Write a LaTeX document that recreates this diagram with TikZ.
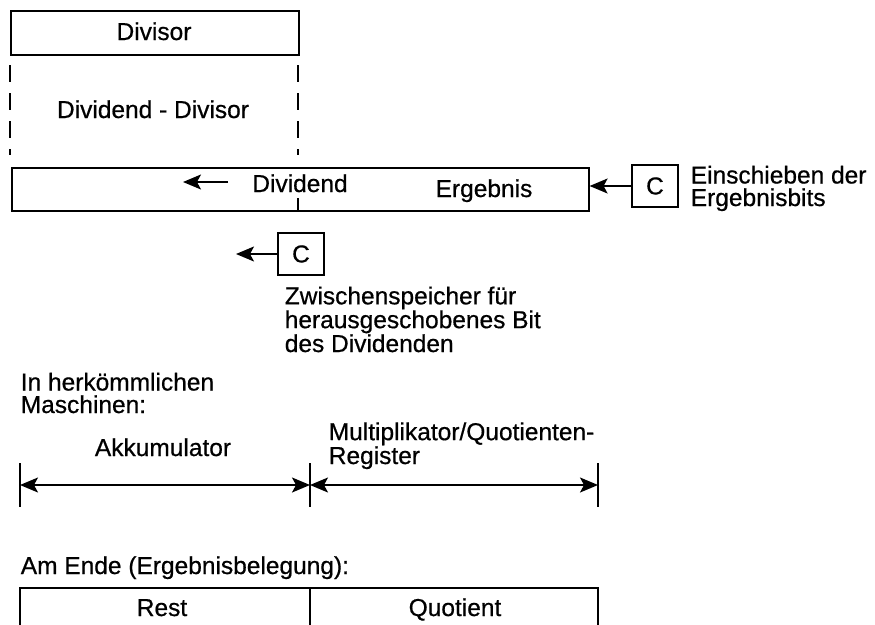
\documentclass[tikz,border=0pt]{standalone}
\usepackage{fontspec}
\setmainfont[FakeBold=0.6]{Liberation Sans}
\usetikzlibrary{arrows.meta}
\begin{document}
\begin{tikzpicture}[x=1pt,y=-1pt,line width=1.6pt,
  txt/.style={inner sep=0pt,font=\fontsize{24.5}{22.5}\selectfont},
  mtxt/.style={txt,align=left,anchor=base west},
  regbox/.style={draw,inner sep=0pt,anchor=north west},
  cbox/.style={draw,minimum width=46pt,minimum height=42pt,inner sep=0pt,font=\fontsize{24.5}{22}\selectfont},
  tip/.style={-{Stealth[length=18pt,width=15pt,inset=4pt]}},
  dtip/.style={{Stealth[length=18pt,width=15pt,inset=4pt]}-{Stealth[length=18pt,width=15pt,inset=4pt]}},
  dashline/.style={dash pattern=on 17pt off 11pt}]
\useasboundingbox (0,0) rectangle (875,624);
% Divisor box
\node[regbox,minimum width=288pt,minimum height=44pt] (divisor) at (10,10) {};
\node[txt,anchor=base] (tdivisor) at (154,40) {Divisor};
% dashed side lines
\coordinate (dl1) at (10,65);
\coordinate (dl2) at (10,155);
\coordinate (dr1) at (298,65);
\coordinate (dr2) at (298,155);
\draw[dashline] (dl1) -- (dl2);
\draw[dashline] (dr1) -- (dr2);
\node[txt,anchor=base] (tdd) at (153,118) {Dividend - Divisor};
% register
\node[regbox,minimum width=577pt,minimum height=43pt] (reg) at (11,167) {};
\coordinate (tk1) at (298,198);
\coordinate (tk2) at (298,210);
\draw (tk1) -- (tk2);
\coordinate (ar1) at (228,182);
\coordinate (ar2) at (183,182);
\draw[tip] (ar1) -- (ar2);
\node[txt,anchor=base] (tdividend) at (300,192) {Dividend};
\node[txt,anchor=base] (tergebnis) at (484,197) {Ergebnis};
% right C
\node[cbox] (cr) at (655,186) {C};
\draw[tip] (cr.west) -- (cr.west -| reg.east);
\node[mtxt] (tein) at (690,206) {Einschieben der\\Ergebnisbits};
% lower C
\node[cbox] (cl) at (301,254) {C};
\coordinate (clend) at (236,254);
\draw[tip] (cl.west) -- (clend);
\node[mtxt] (tzw) at (284,352) {Zwischenspeicher für\\herausgeschobenes Bit\\des Dividenden};
% conventional machines
\node[mtxt] (therk) at (20,413) {In herkömmlichen\\Maschinen:};
\node[txt,anchor=base] (takku) at (163,456) {Akkumulator};
\node[mtxt] (tmq) at (328,464) {Multiplikator/Quotienten-\\Register};
\coordinate (t1a) at (20,463);
\coordinate (t1b) at (20,507);
\coordinate (t2a) at (310,463);
\coordinate (t2b) at (310,507);
\coordinate (t3a) at (598,463);
\coordinate (t3b) at (598,507);
\draw (t1a) -- (t1b);
\draw (t2a) -- (t2b);
\draw (t3a) -- (t3b);
\coordinate (d1) at (20,485);
\coordinate (d2) at (310,485);
\coordinate (d3) at (598,485);
\draw[dtip] (d1) -- (d2);
\draw[dtip] (d2) -- (d3);
% end
\node[mtxt] (tend) at (20,574) {Am Ende (Ergebnisbelegung):};
\coordinate (b1) at (20,640);
\coordinate (b2) at (20,588);
\coordinate (b3) at (598,588);
\coordinate (b4) at (598,640);
\coordinate (b5) at (310,588);
\coordinate (b6) at (310,640);
\draw (b1) -- (b2) -- (b3) -- (b4);
\draw (b5) -- (b6);
\node[txt,anchor=base] (trest) at (162,616) {Rest};
\node[txt,anchor=base] (tquot) at (455,616) {Quotient};
\end{tikzpicture}
\end{document}
